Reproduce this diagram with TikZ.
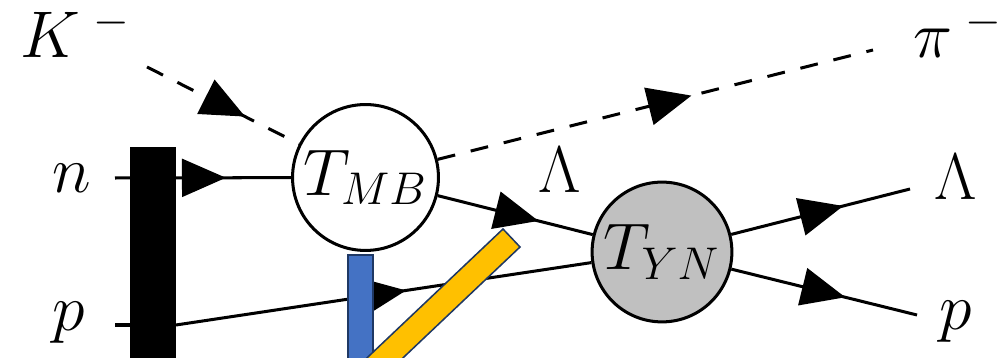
\documentclass[tikz,border=0pt]{standalone}
\usepackage{amsmath}
\usepackage{tikz}
\usetikzlibrary{arrows.meta,decorations.markings}
\definecolor{barblue}{RGB}{68,114,196}
\definecolor{baryellow}{RGB}{255,192,0}
\definecolor{barline}{RGB}{31,56,100}
\definecolor{blobgrey}{RGB}{192,192,192}
\tikzset{
  prop/.style={line width=0.79pt},
  fermion/.style={prop,postaction={decorate},
                  decoration={markings,mark=at position #1 with
                  {\arrow{Triangle[length=11.5pt,width=9.9pt]}}}},
  meson/.style={fermion=#1,dash pattern=on 4.7pt off 4.2pt},
  blob/.style={draw,circle,line width=0.79pt,inner sep=0pt,fill=white},
  lbl/.style={inner sep=0pt},
}

\begin{document}
\begin{tikzpicture}[x=0.2618pt,y=-0.2618pt,font=\LARGE]

  \clip (0,0) rectangle (1002,358);

  % --- vertices -----------------------------------------------------------
  \node[blob,minimum size=38.2pt] (tmb) at (365.5,177.5) {$T_{MB}$};
  \node[blob,fill=blobgrey,minimum size=36.6pt] (tyn) at (662,252) {$T_{YN}$};

  % --- free ends of the legs ---------------------------------------------
  \coordinate (kin)    at (147,67);
  \coordinate (nin)    at (115,178);
  \coordinate (pin)    at (115,325);
  \coordinate (pbar)   at (176,325);
  \coordinate (piout)  at (873,50);
  \coordinate (lamout) at (910,189);
  \coordinate (pout)   at (917,315);

  % --- labels -------------------------------------------------------------
  \node[lbl,anchor=base west] (klab)   at (20,58)   {$K^{\;-}$};
  \node[lbl,anchor=base west] (nlab)   at (52,193)  {$n$};
  \node[lbl,anchor=base west] (plab)   at (52,331)  {$p$};
  \node[lbl,anchor=base]      (lammid) at (560,193) {$\Lambda$};
  \node[lbl,anchor=base west] (pilab)  at (913,58)  {$\pi^{\;-}$};
  \node[lbl,anchor=base]      (lamlab) at (956,200) {$\Lambda$};
  \node[lbl,anchor=base west] (poutl)  at (939,330) {$p$};

  % --- legs ---------------------------------------------------------------
  \draw[meson=0.645]   (kin) -- (tmb);
  \draw[fermion=0.63]  (nin) -- (tmb);
  \draw[prop]          (pin) -- (pbar);
  \draw[fermion=0.554] (pbar) -- (tyn);
  \draw[meson=0.583]   (tmb) -- (piout);
  \draw[fermion=0.65]  (tmb) -- (tyn);
  \draw[fermion=0.627] (tyn) -- (lamout);
  \draw[fermion=0.614] (tyn) -- (pout);

  % --- bars ---------------------------------------------------------------
  \fill (130,147) rectangle (176,370);
  \filldraw[fill=barblue,draw=barline,line width=0.4pt] (348,255) rectangle (373,370);
  \filldraw[fill=baryellow,draw=barline,line width=0.4pt]
    (503,229) -- (520,247) -- (338.5,419) -- (321.5,401) -- cycle;

\end{tikzpicture}
\end{document}
